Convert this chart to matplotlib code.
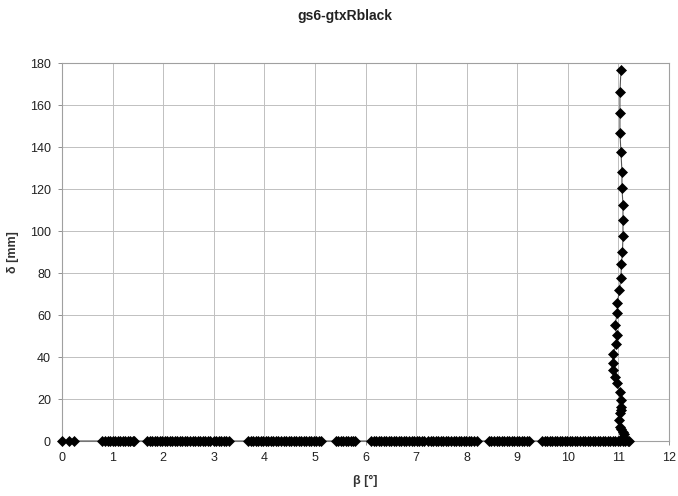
import numpy as np
import matplotlib.pyplot as plt

plt.rcParams['font.family'] = ['Liberation Sans', 'DejaVu Sans']

# beta [deg] readings while delta stays at 0 (dense clusters along the baseline)
beta_flat = [0.0, 0.13, 0.24,
             0.80, 0.85, 0.90, 0.95, 1.00, 1.05, 1.10, 1.15, 1.20, 1.25, 1.30,
             1.35, 1.40, 1.43,
             1.68, 1.73, 1.78, 1.83, 1.88, 1.93, 1.98, 2.03, 2.08, 2.13, 2.18,
             2.23, 2.28, 2.33, 2.38, 2.43, 2.48, 2.53, 2.58, 2.63, 2.68, 2.73,
             2.78, 2.83, 2.88, 2.92, 3.00, 3.05, 3.10, 3.15, 3.20, 3.25, 3.31,
             3.68, 3.73, 3.78, 3.83, 3.88, 3.93, 3.98, 4.03, 4.08, 4.13, 4.18,
             4.23, 4.28, 4.33, 4.38, 4.43, 4.48, 4.53, 4.58, 4.63, 4.68, 4.73,
             4.78, 4.83, 4.88, 4.93, 4.98, 5.03, 5.08, 5.13,
             5.41, 5.46, 5.51, 5.56, 5.61, 5.66, 5.71, 5.75, 5.79,
             6.11, 6.16, 6.21, 6.26, 6.31, 6.36, 6.41, 6.46, 6.51, 6.56, 6.61,
             6.66, 6.71, 6.76, 6.81, 6.86, 6.91, 6.96, 7.01, 7.06, 7.11, 7.16,
             7.24, 7.29, 7.34, 7.39, 7.44, 7.49, 7.54, 7.59, 7.64, 7.69, 7.74,
             7.79, 7.84, 7.89, 7.94, 7.99, 8.04, 8.09, 8.14, 8.20,
             8.44, 8.49, 8.54, 8.59, 8.64, 8.69, 8.74, 8.79, 8.84, 8.89, 8.94,
             8.99, 9.04, 9.09, 9.14, 9.19, 9.24,
             9.49, 9.54, 9.59, 9.64, 9.69, 9.74, 9.79, 9.84, 9.89, 9.94, 9.99,
             10.04, 10.09, 10.14, 10.19, 10.24, 10.29, 10.34, 10.39, 10.44,
             10.49, 10.54, 10.59, 10.64, 10.69, 10.74, 10.79, 10.84, 10.89,
             10.94, 10.99, 11.04, 11.09, 11.14, 11.18, 11.20]

# rising part: beta [deg] and delta [mm]
beta_rise = [11.12, 11.09, 11.12, 11.10, 11.05, 11.03, 11.02, 11.04, 11.05,
             11.05, 11.05, 11.03, 10.98, 10.93, 10.89, 10.89, 10.90, 10.95,
             10.97, 10.93, 10.98, 10.98, 11.02, 11.05, 11.06, 11.08, 11.09,
             11.09, 11.09, 11.07, 11.07, 11.05, 11.03, 11.03, 11.03, 11.05]
delta_rise = [1.0, 2.0, 3.2, 4.4, 5.6, 6.8, 10.0, 13.2, 14.8, 16.3, 19.5,
              23.5, 27.5, 30.6, 33.8, 37.3, 41.4, 46.0, 50.5, 55.2, 60.8,
              65.9, 71.9, 77.8, 84.3, 90.1, 97.8, 105.1, 112.5, 120.5, 128.2,
              137.5, 146.8, 156.3, 166.0, 176.7]

beta = np.array(beta_flat + beta_rise)
delta = np.array([0.0] * len(beta_flat) + delta_rise)

fig = plt.figure(figsize=(6.78, 4.96), dpi=100)
ax = fig.add_axes([62 / 678, 55 / 496, 607 / 678, 378 / 496])

ax.plot(beta, delta, color='#555555', lw=0.8, marker='D', ms=4.8,
        mfc='black', mec='black', mew=0.5, zorder=3, clip_on=False)

ax.set_xlim(0, 12)
ax.set_ylim(0, 180)
ax.set_xticks(range(0, 13))
ax.set_yticks(range(0, 181, 20))
ax.grid(True, color='#c0c0c0', lw=0.7)
for s in ax.spines.values():
    s.set_color('#a0a0a0')
    s.set_linewidth(0.8)
ax.tick_params(axis='both', length=3, width=0.7, color='#909090',
               labelsize=9, labelcolor='#222222', pad=5)

ax.set_xlabel('β [°]', fontsize=9, fontweight='bold', color='#333333', labelpad=8)
ax.set_ylabel('δ [mm]', fontsize=9, fontweight='bold', color='#333333', labelpad=8)
fig.text(345 / 678, 1 - 16 / 496, 'gs6-gtxRblack', ha='center', va='center',
         fontsize=10, fontweight='bold', color='#222222')

fig.savefig('out.png', dpi=100)
